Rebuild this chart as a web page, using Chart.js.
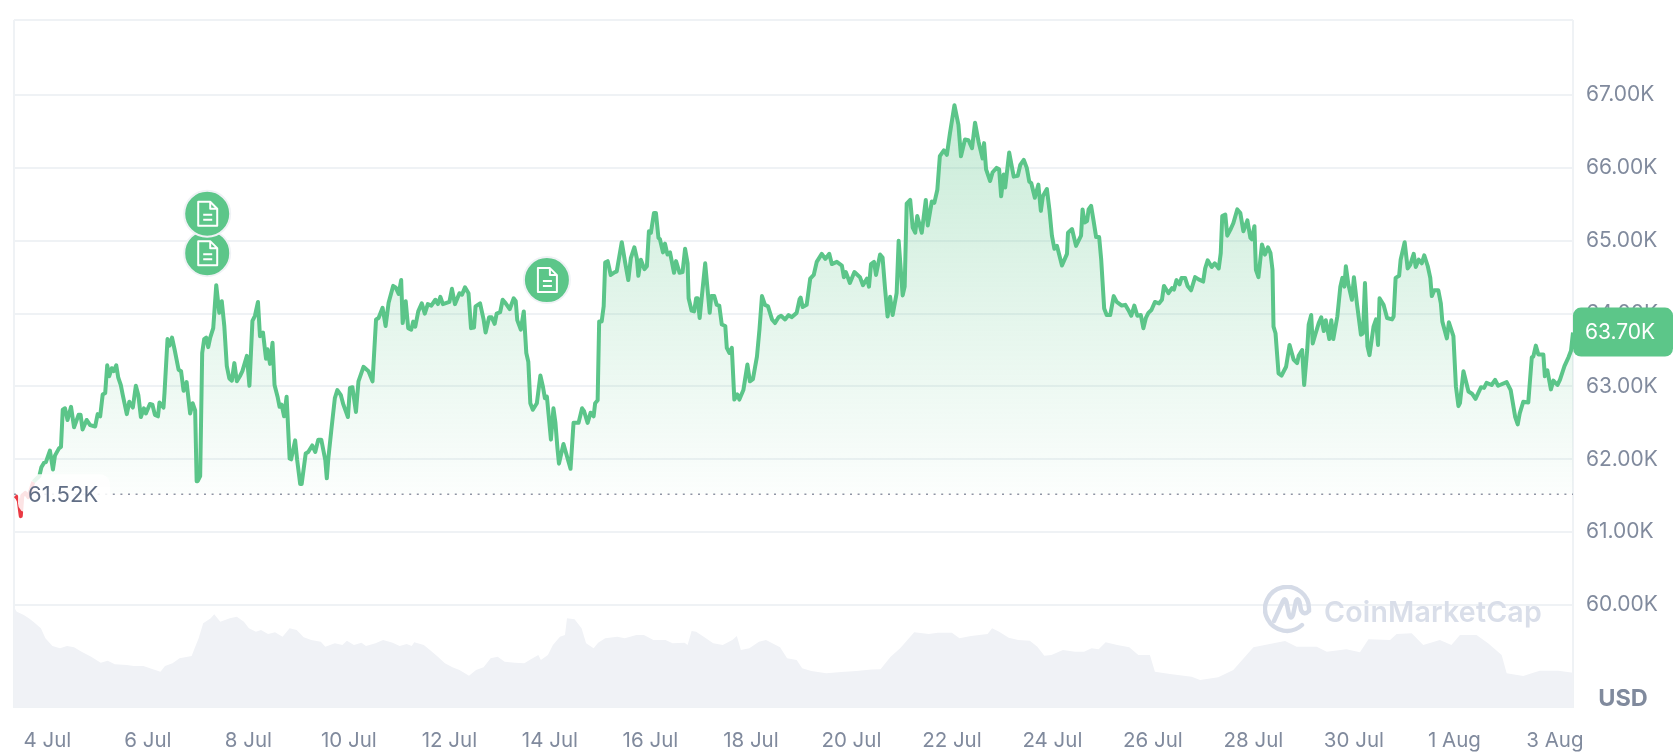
<!DOCTYPE html>
<html><head><meta charset="utf-8">
<style>
html,body{margin:0;padding:0;background:#fff;overflow:hidden}
#wrap{position:relative;width:1679px;height:753px}
canvas{display:block}
#mark{position:absolute;left:1263px;top:585px;display:flex;align-items:center;pointer-events:none}
#mark span{font:600 28.5px Inter,sans-serif;color:#d9dee9;margin-left:12px;letter-spacing:.2px;position:relative;top:2px}
</style></head><body>
<div id="wrap"><canvas id="c" width="1679" height="753"></canvas>
<div id="mark"><svg width="49" height="49" viewBox="0 0 49 49" fill="none" stroke="#d5dbe7" stroke-width="4.4" stroke-linecap="round" stroke-linejoin="round"><path d="M39 40A22 22 0 1 1 46 25"/><path d="M11 36L20 16Q22 12 23.5 17L26 30Q28 35 30 30L33 16Q35 12 36.5 17L38 25Q41 31 46 26"/></svg><span>CoinMarketCap</span></div>
</div>
<script src="https://cdn.jsdelivr.net/npm/chart.js@4/dist/chart.umd.min.js"></script>
<script>
const days=[
-0.64,-0.60,-0.57,-0.53,-0.50,-0.44,-0.38,-0.28,-0.16,-0.12,-0.07,-0.03,0.05,0.11,0.15,0.23,0.27,
0.305,0.35,0.40,0.47,0.53,0.62,0.66,0.70,0.78,0.85,0.95,1.0,1.05,1.10,1.15,1.19,1.23,1.28,1.32,1.37,1.41,1.46,1.5,1.58,1.63,1.70,1.76,1.81,1.86,1.92,1.96,2.04,2.09,2.14,2.2,2.23,2.31,2.33,2.39,2.43,2.48,2.53,2.61,2.66,2.71,2.77,2.84,2.89,2.94,2.97,2.99,3.04,
3.08,3.12,3.16,3.2,3.24,3.3,3.36,3.42,3.47,3.52,3.57,3.62,3.67,3.72,3.77,3.83,3.88,3.97,4.02,4.08,4.13,4.19,4.23,4.29,4.35,4.38,4.43,4.48,4.52,4.58,4.62,4.66,4.71,4.76,4.82,4.85,4.93,4.97,5.03,5.06,5.14,5.19,5.27,5.33,5.39,5.45,5.53,5.56,5.59,5.65,5.72,5.77,5.84,5.89,5.98,6.02,6.07,6.14,6.19,6.29,6.39,6.47,6.54,6.59,6.67,6.73,6.79,6.88,6.93,6.99,
7.04,7.07,7.13,7.18,7.24,7.28,7.32,7.38,7.45,7.51,7.57,7.64,7.72,7.77,7.82,7.87,8.0,8.05,8.11,8.2,8.25,8.31,8.38,8.43,8.49,8.52,8.61,8.68,8.72,8.79,8.84,8.9,8.94,9.01,9.06,9.12,9.2,9.28,9.32,9.35,9.42,9.48,9.53,9.57,9.61,9.66,9.74,9.81,9.86,9.9,9.94,10.02,10.07,10.11,10.15,10.18,10.27,10.41,10.47,10.57,10.64,10.68,10.75,10.81,10.87,10.9,10.95,10.98,11.03,11.07,11.1,11.15,11.21,11.27,11.33,11.43,11.5,11.56,11.61,11.68,11.73,11.76,11.81,11.88,11.93,11.97,12.01,12.07,12.11,12.16,12.19,12.25,12.29,12.34,12.39,12.47,12.51,12.58,12.64,12.69,12.74,12.76,12.82,12.87,12.91,12.94,12.98,13.09,13.18,13.21,13.27,13.32,13.37,13.42,13.49,13.52,13.57,13.62,13.67,13.73,13.77,13.85,13.93,13.98,14.04,14.12,14.17,14.22,14.28,14.34,14.42,14.48,14.55,14.6,14.68,14.75,14.81,14.91,14.97,
14.99,15.03,15.11,15.18,15.25,15.31,15.41,15.48,15.56,15.61,15.71,15.81,15.85,15.89,15.97,16.06,16.17,16.23,16.31,16.35,16.39,16.45,16.49,16.57,16.62,16.67,16.72,16.77,16.82,16.9,16.94,17.02,17.06,17.1,17.17,17.22,17.27,17.31,17.4,17.48,17.52,17.6,17.65,17.71,17.76,17.84,17.9,17.96,18.05,18.13,18.18,18.26,18.33,18.4,18.46,18.53,18.61,18.64,18.68,18.76,18.81,18.89,18.94,18.98,19.03,19.06,19.14,19.23,19.31,19.36,19.43,19.49,19.54,19.58,19.65,19.72,19.77,19.81,19.89,19.94,19.99,20.04,20.09,20.19,20.29,20.31,20.39,20.47,20.57,20.6,20.64,20.69,20.72,20.77,20.82,20.87,20.93,20.97,21.03,21.08,21.15,21.22,21.28,21.38,21.45,21.51,
21.57,21.63,21.69,21.76,21.81,21.86,21.91,21.97,22.04,22.12,22.18,22.22,22.31,22.38,22.42,22.47,22.53,22.57,22.64,22.69,22.76,22.84,22.91,23.0,23.04,23.09,23.17,23.23,23.31,23.35,23.38,23.44,23.48,23.54,23.6,23.68,23.74,23.8,23.88,23.94,23.97,24.02,24.05,24.1,24.17,24.23,24.29,24.34,24.38,24.4,24.44,24.5,24.56,24.65,24.72,24.8,24.87,24.9,24.97,25.01,25.07,25.1,25.15,25.18,25.23,25.3,25.35,25.4,25.44,25.51,25.55,25.59,25.67,25.73,25.77,25.81,25.84,25.89,25.96,26.0,26.06,26.14,26.18,26.22,26.27,26.31,26.39,26.44,26.48,26.51,26.59,26.66,26.76,26.79,26.83,26.9,26.93,27.01,27.07,27.12,27.19,27.23,27.29,27.35,27.4,27.47,27.52,27.55,27.6,27.68,27.73,27.76,27.85,27.89,27.98,28.03,28.08,28.11,28.18,28.28,28.35,28.42,
28.53,28.59,28.64,28.74,28.81,28.87,29.04,29.12,29.21,29.26,29.3,29.37,29.47,29.54,29.57,29.62,29.67,29.77,29.8,29.85,29.92,29.97,30.05,30.1,30.19,30.27,30.32,30.36];
const prices=[
61.50,61.47,61.43,61.22,61.50,61.54,61.48,61.69,61.77,61.89,61.95,61.96,62.12,61.86,62.05,62.15,62.17,
62.68,62.70,62.54,62.72,62.44,62.61,62.61,62.41,62.54,62.47,62.45,62.62,62.59,62.89,62.91,63.29,63.14,63.25,63.21,63.29,63.12,63.02,62.88,62.62,62.79,62.71,63.01,62.88,62.58,62.70,62.63,62.76,62.75,62.61,62.59,62.78,62.71,62.91,63.65,63.56,63.67,63.51,63.23,63.21,62.94,63.06,62.63,62.77,62.67,61.70,61.70,61.77,
63.46,63.65,63.67,63.54,63.67,63.8,64.39,64.01,64.17,63.83,63.28,63.11,63.08,63.32,63.07,63.14,63.21,63.42,63.01,63.9,63.97,64.16,63.69,63.74,63.38,63.51,63.31,63.6,63.02,62.86,62.72,62.75,62.59,62.86,62.01,62.0,62.26,61.99,61.66,61.66,62.08,62.10,62.19,62.1,62.27,62.27,61.99,61.74,62.01,62.4,62.84,62.95,62.88,62.75,62.58,62.98,62.99,62.65,63.07,63.27,63.21,63.07,63.92,63.94,64.08,63.83,64.15,64.38,64.36,64.27,
64.46,63.87,64.17,63.80,63.78,63.89,63.82,64.03,64.14,64.0,64.13,64.11,64.19,64.13,64.23,64.13,64.16,64.34,64.13,64.28,64.26,64.36,64.28,63.8,63.81,64.1,64.14,63.92,63.74,63.95,63.95,63.86,64.0,64.02,64.19,64.14,64.06,64.21,64.17,63.91,63.78,64.03,63.46,63.34,62.77,62.68,62.77,63.15,63.0,62.84,62.86,62.27,62.7,62.5,62.15,61.94,62.21,61.87,62.5,62.5,62.7,62.66,62.5,62.64,62.59,62.77,62.81,63.89,63.89,64.1,64.7,64.72,64.53,64.56,64.58,64.98,64.69,64.46,64.76,64.91,64.76,64.52,64.74,64.61,64.65,65.13,65.11,65.38,65.38,65.04,65.02,64.84,64.96,64.81,64.84,64.56,64.72,64.56,64.57,64.89,64.69,64.21,64.04,64.03,64.21,64.21,63.94,64.69,64.01,64.24,64.24,64.12,64.11,63.85,63.83,63.53,63.46,63.53,62.82,62.89,62.82,62.95,63.3,63.07,63.1,63.41,63.78,64.24,64.12,64.1,63.92,63.87,63.95,63.97,63.92,63.98,63.95,64.01,64.2,
64.22,64.09,64.12,64.48,64.53,64.71,64.82,64.75,64.82,64.68,64.71,64.66,64.5,64.57,64.42,64.57,64.5,64.39,64.48,64.37,64.68,64.71,64.53,64.81,64.77,64.34,63.96,64.23,63.98,64.28,65.0,64.25,64.37,65.51,65.56,65.18,65.11,65.34,65.11,65.56,65.21,65.54,65.52,65.7,66.16,66.24,66.18,66.47,66.86,66.59,66.16,66.39,66.38,66.27,66.62,66.36,66.13,66.34,65.98,65.82,65.94,66.0,65.98,65.61,65.91,65.73,66.21,65.88,65.89,66.04,66.11,66.0,65.81,65.79,65.59,65.77,65.41,65.61,65.71,65.43,65.07,64.89,64.93,64.66,64.82,65.11,65.16,64.93,65.07,65.43,65.25,65.27,65.43,65.48,65.27,65.05,65.05,64.75,64.07,63.98,63.98,64.24,64.16,64.11,64.12,64.05,
63.97,64.11,63.97,63.98,63.8,63.94,64.01,64.05,64.16,64.14,64.19,64.38,64.28,64.35,64.33,64.46,64.4,64.49,64.49,64.38,64.32,64.5,64.47,64.44,64.62,64.73,64.64,64.69,64.62,64.83,65.34,65.36,65.07,65.15,65.24,65.43,65.38,65.13,65.28,65.04,65.02,65.2,64.6,64.5,64.95,64.81,64.91,64.83,64.6,63.82,63.73,63.18,63.15,63.27,63.57,63.37,63.32,63.42,63.5,63.02,63.5,63.85,63.98,63.59,63.71,63.87,63.95,63.76,63.91,63.65,63.91,63.65,63.96,64.37,64.49,64.37,64.65,64.4,64.19,64.5,64.14,63.71,63.73,64.42,63.55,63.43,63.82,63.92,63.57,64.21,64.12,63.94,63.92,63.96,64.49,64.52,64.74,64.98,64.62,64.67,64.82,64.64,64.74,64.69,64.8,64.65,64.49,64.24,64.32,64.32,64.14,63.89,63.66,63.88,63.69,63.0,62.73,62.77,63.21,62.93,62.9,62.83,
62.99,62.98,63.05,63.02,63.09,63.01,63.06,62.95,62.58,62.48,62.63,62.79,62.78,63.4,63.41,63.56,63.44,63.44,63.14,63.22,62.96,63.08,63.02,63.09,63.28,63.4,63.49,63.74];

const volDays=[-0.67,-0.61,-0.47,-0.37,-0.28,-0.13,-0.04,0.10,0.25,0.39,0.53,0.68,0.87,1.06,1.2,1.34,1.58,1.72,1.91,2.1,2.25,2.34,2.49,2.63,2.87,2.93,3.01,3.1,3.25,3.32,3.44,3.63,3.77,3.91,4.01,4.15,4.25,4.39,4.53,4.68,4.82,4.96,5.1,5.25,5.44,5.53,5.72,5.87,5.96,6.1,6.25,6.34,6.53,6.68,6.87,7.01,7.15,7.25,7.3,7.49,7.63,7.77,7.91,8.06,8.2,8.39,8.53,8.68,8.82,8.96,9.1,9.3,9.49,9.63,9.77,9.82,9.96,10.06,10.2,10.3,10.34,10.49,10.63,10.72,10.87,10.96,11.1,11.34,11.49,11.72,11.87,12.06,12.3,12.44,12.68,12.74,12.82,12.91,13.06,13.25,13.44,13.63,13.72,13.8,13.97,14.16,14.3,14.58,14.72,14.91,15.02,15.2,15.5,15.8,16.1,16.4,16.58,16.78,16.97,17.25,17.54,17.72,18.0,18.15,18.38,18.71,18.8,18.94,19.13,19.32,19.55,19.7,19.84,19.98,20.21,20.45,20.63,20.78,20.92,21.06,21.29,21.53,21.71,21.94,22.04,22.34,22.77,22.94,23.3,23.6,24.0,24.4,24.63,24.86,25.26,25.46,25.85,26.12,26.29,26.72,26.85,27.15,27.38,27.71,27.94,28.11,28.44,28.67,28.94,29.04,29.37,29.57,29.7,30.07,30.36];
const volumes=[40.1,38.1,36.8,35.5,34.1,31.5,27.5,24.4,23.5,24.4,23.9,22.1,20.1,17.7,18.5,17.1,16.8,16.4,16.4,15.1,14.1,16.4,17.5,19.5,20.4,23.5,27.5,33.5,35.5,37.1,34.1,35.5,36.1,34.1,31.5,30.1,30.8,29.2,29.9,28.1,31.5,30.8,27.9,26.8,26.1,24.1,25.5,24.8,26.5,24.8,25.7,24.4,25.5,26.8,25.7,24.4,25.2,24.4,25.9,24.8,22.5,20.1,17.5,15.9,14.8,12.5,14.8,15.9,19.5,20.1,18.1,17.7,17.5,19.2,20.8,18.8,20.8,24.8,28.1,28.8,35.5,35.1,31.5,25.5,23.5,25.7,27.5,28.1,27.5,28.8,28.8,26.8,26.8,25.5,25.7,24.8,30.4,30.1,28.1,25.5,24.8,26.8,28.4,22.8,23.5,26.1,26.8,23.9,19.5,18.8,15.5,14.4,13.5,14.0,14.4,15.0,15.1,20.1,23.5,29.9,29.2,29.7,29.7,27.5,28.4,29.2,31.5,30.1,27.7,26.8,26.5,24.1,20.5,20.8,22.8,22.1,22.1,23.5,23.1,25.9,24.8,23.9,20.8,20.8,14.1,13.2,12.1,10.8,11.9,14.8,23.9,25.5,26.4,24.1,24.1,22.1,23.1,21.9,27.1,26.8,29.2,29.5,24.8,26.8,24.8,28.8,28.8,25.5,20.8,13.5,12.4,13.7,14.5,14.5,13.7];

const tickDays=[0,2,4,6,8,10,12,14,16,18,20,22,24,26,28,30];
const tickLabels=['4 Jul','6 Jul','8 Jul','10 Jul','12 Jul','14 Jul','16 Jul','18 Jul','20 Jul','22 Jul','24 Jul','26 Jul','28 Jul','30 Jul','1 Aug','3 Aug'];
const priceTicks=[60,61,62,63,64,65,66,67];
const baseValue=61.52, lastLabel='63.70K', currency='USD';
const eventDays=[3.18,3.18,9.94], eventPrices=[64.83,65.37,64.46];

const GREEN='#5BC589', GRID='#EFF2F5', TXT='#808A9D', RED='#EA3943';
const FONT='Inter, sans-serif';
const n=Math.min(days.length,prices.length);
const pricePts=[];for(let i=0;i<n;i++)pricePts.push({x:days[i],y:prices[i]});
const volPts=[];for(let i=0;i<Math.min(volDays.length,volumes.length);i++)volPts.push({x:volDays[i],y:volumes[i]});

function roundBox(ctx,x,y,w,h,r){ctx.beginPath();ctx.roundRect(x,y,w,h,r);}
const overlay={id:'overlay',
 beforeDatasetsDraw(ch){const a=ch.chartArea,c=ch.ctx;c.save();c.strokeStyle=GRID;c.lineWidth=2;
  c.beginPath();c.moveTo(a.left,a.top);c.lineTo(a.right,a.top);c.moveTo(a.left,a.top);c.lineTo(a.left,a.bottom);c.moveTo(a.right,a.top);c.lineTo(a.right,a.bottom);c.stroke();c.restore();},
 afterDraw(ch){const c=ch.ctx,X=ch.scales.x,Y=ch.scales.y,a=ch.chartArea;c.save();
  const by=Y.getPixelForValue(baseValue);
  c.fillStyle='rgba(255,255,255,.86)';roundBox(c,18,by-20,92,39,10);c.fill();
  c.fillStyle='#616E85';c.font='22px '+FONT;c.textAlign='left';c.textBaseline='middle';c.fillText(baseValue.toFixed(2)+'K',28,by+1);
  const ly=Y.getPixelForValue(prices[n-1]);
  c.fillStyle='#5CC689';roundBox(c,a.right,ly-25,100,49,8);c.fill();
  c.fillStyle='#fff';c.font='21px '+FONT;c.fillText(lastLabel,a.right+12,ly);
  c.fillStyle=TXT;c.font='700 23.5px '+FONT;c.textAlign='center';c.fillText(currency,1623,699);
  for(let i=0;i<eventDays.length;i++){const x=X.getPixelForValue(eventDays[i]),y=Y.getPixelForValue(eventPrices[i]);
   c.beginPath();c.arc(x,y,23,0,Math.PI*2);c.fillStyle='#5CC689';c.fill();c.lineWidth=2;c.strokeStyle='#EFF2F5';c.stroke();
   c.strokeStyle='#fff';c.lineWidth=2;c.lineJoin='round';c.beginPath();
   c.moveTo(x-9,y-12);c.lineTo(x+3,y-12);c.lineTo(x+10,y-5);c.lineTo(x+10,y+12);c.lineTo(x-9,y+12);c.closePath();
   c.moveTo(x+3,y-12);c.lineTo(x+3,y-5);c.lineTo(x+10,y-5);
   c.moveTo(x-4,y+1);c.lineTo(x+5,y+1);c.moveTo(x-4,y+6);c.lineTo(x+5,y+6);c.stroke();}
  c.restore();}
};
new Chart(document.getElementById('c'),{
 type:'line',
 data:{datasets:[
  {data:pricePts,yAxisID:'y',borderColor:GREEN,borderWidth:4,pointRadius:0,tension:0,borderJoinStyle:'round',
   backgroundColor(ctx){const a=ctx.chart.chartArea;if(!a)return 'rgba(0,0,0,0)';const Y=ctx.chart.scales.y;
     const g=ctx.chart.ctx.createLinearGradient(0,Y.getPixelForValue(67),0,Y.getPixelForValue(baseValue));
     g.addColorStop(0,'rgba(91,197,137,.34)');g.addColorStop(1,'rgba(91,197,137,.02)');return g;},
   fill:{target:{value:baseValue},below:'rgba(234,57,67,.06)'},
   segment:{borderColor:s=>(s.p0.parsed.y<baseValue||s.p1.parsed.y<baseValue)?RED:undefined}},
  {data:[{x:-0.665,y:baseValue},{x:30.36,y:baseValue}],yAxisID:'y',borderColor:'#8F96A6',borderWidth:1.6,borderDash:[2,5.6],pointRadius:0,fill:false},
  {data:volPts,yAxisID:'vol',borderWidth:0,pointRadius:0,tension:0,backgroundColor:'#F0F2F6',fill:'origin'}
 ]},
 options:{responsive:false,animation:false,events:[],
  layout:{padding:{left:14,top:20,right:0,bottom:0}},
  plugins:{legend:{display:false},tooltip:{enabled:false}},
  scales:{
   x:{type:'linear',min:-0.665,max:30.36,grid:{display:false},border:{color:GRID,width:2},
     afterBuildTicks(s){s.ticks=tickDays.map(v=>({value:v}));},
     afterFit(s){s.height=46;s.paddingLeft=0;s.paddingRight=0;},
     ticks:{autoSkip:false,maxRotation:0,padding:14,color:TXT,font:{family:FONT,size:20.5},callback:(v,i)=>tickLabels[i]}},
   y:{position:'right',min:58.6,max:68.03,grid:{color:GRID,lineWidth:2,drawTicks:false},border:{display:false},
     afterBuildTicks(s){s.ticks=priceTicks.map(v=>({value:v}));},
     afterFit(s){s.width=106;s.paddingTop=0;s.paddingBottom=0;},
     ticks:{padding:13,color:TXT,font:{family:FONT,size:21},callback:v=>v.toFixed(2)+'K'}},
   vol:{display:false,min:0,max:274.8,afterFit(s){s.paddingTop=0;s.paddingBottom=0;}}
  }},
 plugins:[overlay]
});
</script></body></html>
